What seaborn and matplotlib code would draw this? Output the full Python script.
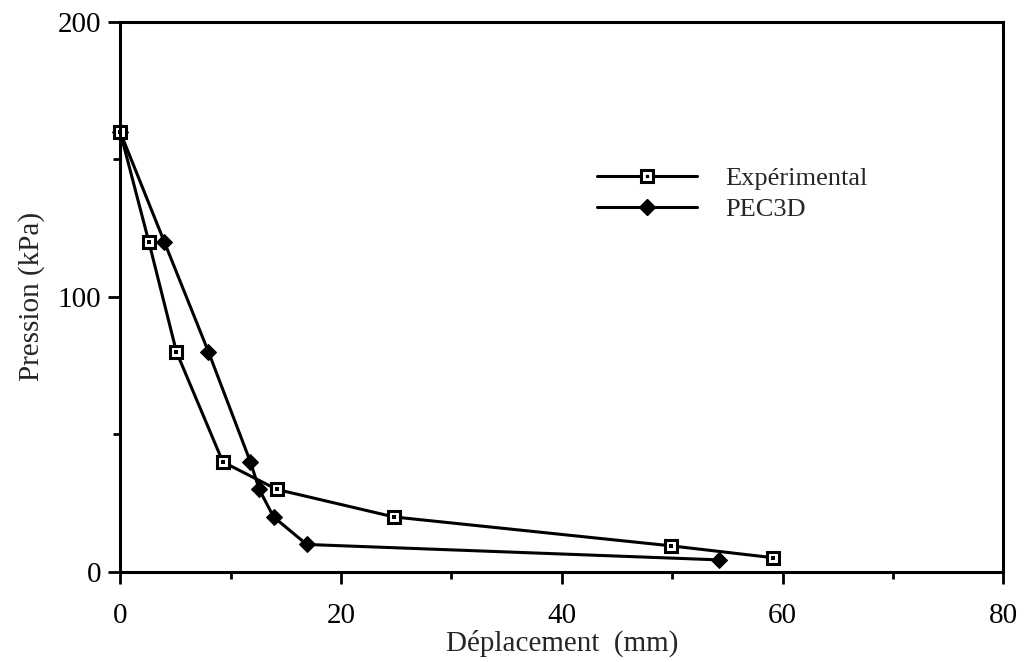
import matplotlib
matplotlib.use("Agg")
import matplotlib.pyplot as plt
import seaborn as sns
import pandas as pd
from matplotlib.lines import Line2D
from matplotlib.legend_handler import HandlerTuple
from matplotlib.ticker import MultipleLocator

# Data
exp_x = [0, 2.6, 5.1, 9.3, 14.2, 24.8, 49.9, 59.1]
exp_y = [160, 120, 80, 40, 30, 20, 9.5, 5.2]
pec_x = [0, 4.0, 8.0, 11.8, 12.6, 13.9, 16.9, 54.2]
pec_y = [160, 120, 80, 40, 30, 20, 10, 4.4]
series_names = ["Expérimental", "PEC3D"]
x_ticks = [0, 20, 40, 60, 80]
y_ticks = [0, 100, 200]
x_label = "Déplacement  (mm)"
y_label = "Pression (kPa)"

sns.set_style("white")
plt.rcParams['font.family'] = ['Liberation Serif', 'DejaVu Serif']

fig = plt.figure(figsize=(10.27, 6.62), dpi=100)
ax = fig.add_axes([0.117, 0.136, 0.860, 0.831])

df_exp = pd.DataFrame({"x": exp_x, "y": exp_y})
df_pec = pd.DataFrame({"x": pec_x, "y": pec_y})

lw = 2.2
sns.lineplot(data=df_pec, x="x", y="y", ax=ax, color="black", linewidth=lw,
             marker="D", markersize=8, markerfacecolor="black",
             markeredgecolor="black", estimator=None, sort=False, clip_on=False)
sns.lineplot(data=df_exp, x="x", y="y", ax=ax, color="black", linewidth=lw,
             marker="s", markersize=8.5, markerfacecolor="white",
             markeredgecolor="black", markeredgewidth=2.2,
             estimator=None, sort=False, clip_on=False)
sns.scatterplot(data=df_exp, x="x", y="y", ax=ax, color="black", marker="s",
                s=5, linewidth=0, zorder=5, clip_on=False)

ax.set_xlim(0, 80)
ax.set_ylim(0, 200)
ax.set_xticks(x_ticks)
ax.set_yticks(y_ticks)
ax.xaxis.set_minor_locator(MultipleLocator(10))
ax.yaxis.set_minor_locator(MultipleLocator(50))
ax.tick_params(axis="both", which="major", direction="out", length=8.5,
               width=2, labelsize=21, color="black", labelcolor="black")
ax.tick_params(axis="x", which="major", pad=14, bottom=True, top=False)
ax.tick_params(axis="y", which="major", pad=5, left=True, right=False)
ax.tick_params(axis="both", which="minor", direction="out", length=5,
               width=2, color="black")
ax.tick_params(axis="x", which="minor", bottom=True, top=False)
ax.tick_params(axis="y", which="minor", left=True, right=False)

for sp in ax.spines.values():
    sp.set_visible(True)
    sp.set_color("black")
    sp.set_linewidth(2.2)

ax.set_xlabel(x_label, fontsize=21, labelpad=0)
ax.set_ylabel(y_label, fontsize=21, labelpad=9)

h_exp = (Line2D([], [], color="black", linewidth=lw, marker="s", markersize=8.5,
                markerfacecolor="white", markeredgecolor="black",
                markeredgewidth=2.2),
         Line2D([], [], linestyle="none", marker="s", markersize=2,
                color="black"))
h_pec = Line2D([], [], color="black", linewidth=lw, marker="D", markersize=8,
               markerfacecolor="black", markeredgecolor="black")
ax.legend([h_exp, h_pec], series_names,
          handler_map={tuple: HandlerTuple(ndivide=1)},
          loc="upper left", bbox_to_anchor=(0.54, 0.737), frameon=False,
          fontsize=19, handlelength=3.8, handletextpad=1.05,
          labelspacing=0.3, borderpad=0, borderaxespad=0)

fig.savefig("out.png", dpi=100)
